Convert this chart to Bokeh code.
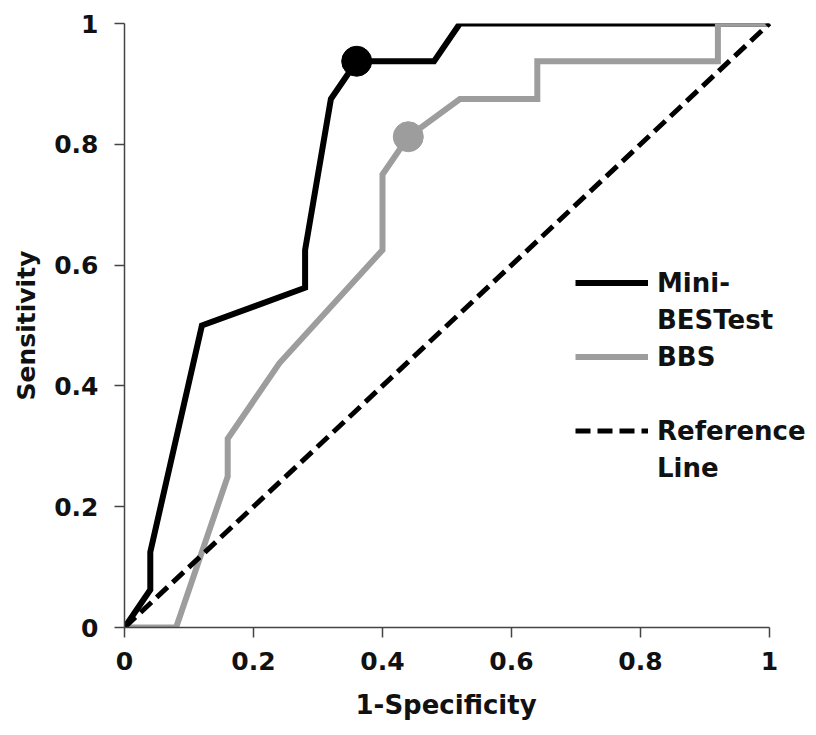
from bokeh.plotting import figure
from bokeh.models import Legend, LegendItem, FixedTicker, Title
from bokeh.embed import file_html
from bokeh.resources import INLINE

# ---- data ----
mini_x = [0, 0.04, 0.04, 0.12, 0.28, 0.28, 0.32, 0.36, 0.48, 0.52, 1.0]
mini_y = [0, 0.0625, 0.125, 0.5, 0.5625, 0.625, 0.875, 0.9375, 0.9375, 1.0, 1.0]

bbs_x = [0, 0.08, 0.16, 0.16, 0.24, 0.40, 0.40, 0.44, 0.52, 0.64, 0.64, 0.92, 0.92, 1.0]
bbs_y = [0, 0, 0.25, 0.3125, 0.4375, 0.625, 0.75, 0.8125, 0.875, 0.875, 0.9375, 0.9375, 1.0, 1.0]

ref_x = [0, 1]
ref_y = [0, 1]

mini_cut_x = [0.36]
mini_cut_y = [0.9375]
bbs_cut_x = [0.44]
bbs_cut_y = [0.8125]

tick_values = [0, 0.2, 0.4, 0.6, 0.8, 1.0]
tick_labels = ["0", "0.2", "0.4", "0.6", "0.8", "1"]

GREY = "#9d9d9d"
FONT = "DejaVu Sans"

# frame runs to the page's right edge so the legend text is not clipped;
# the x axis itself is bounded to 0..1
X_END = 692 / 645.0

p = figure(width=816, height=735, x_range=(0, X_END), y_range=(0, 1),
           min_border_left=124, min_border_right=0, min_border_top=23, min_border_bottom=107,
           output_backend="svg", toolbar_location=None)
p.outline_line_color = None
p.xgrid.visible = False
p.ygrid.visible = False
p.background_fill_color = "white"
p.border_fill_color = "white"

r_mini = p.line(mini_x, mini_y, line_color="black", line_width=6, line_join="miter")
r_bbs = p.line(bbs_x, bbs_y, line_color=GREY, line_width=6, line_join="miter")
r_ref = p.line(ref_x, ref_y, line_color="black", line_width=5, line_dash="15 7")
p.scatter(mini_cut_x, mini_cut_y, size=30, fill_color="black", line_color="black")
p.scatter(bbs_cut_x, bbs_cut_y, size=30, fill_color=GREY, line_color=GREY)
r_blank = p.line(x=[], y=[], line_alpha=0)

for ax in (p.xaxis[0], p.yaxis[0]):
    ax.ticker = FixedTicker(ticks=tick_values)
    ax.major_label_overrides = {v: l for v, l in zip(tick_values, tick_labels)}
    ax.minor_tick_line_color = None
    ax.major_tick_in = 0
    ax.major_tick_out = 10
    ax.axis_line_color = "#444444"
    ax.axis_line_width = 1.5
    ax.major_tick_line_color = "#444444"
    ax.major_tick_line_width = 1.5
    ax.major_label_text_font = FONT
    ax.major_label_text_font_style = "bold"
    ax.major_label_text_font_size = "25px"
    ax.major_label_text_color = "#111111"
    ax.major_label_standoff = 14
    ax.axis_label_text_font = FONT
    ax.axis_label_text_font_style = "bold"
    ax.axis_label_text_color = "#111111"
    ax.axis_label_standoff = 12

p.xaxis.bounds = (0, 1)
p.yaxis.axis_label = "Sensitivity"
p.yaxis.axis_label_text_font_size = "25px"
p.yaxis.major_label_standoff = 16
p.yaxis.axis_label_standoff = 10

# x-axis title, centred under the 0..1 axis (not under the wider frame)
p.add_layout(Title(text="1-Specificity", align="left", offset=231,
                   text_font=FONT, text_font_style="bold", text_font_size="26px",
                   text_color="#111111", standoff=31), "below")

legend = Legend(items=[
    LegendItem(label="Mini-", renderers=[r_mini]),
    LegendItem(label="BESTest", renderers=[r_blank]),
    LegendItem(label="BBS", renderers=[r_bbs]),
    LegendItem(label=" ", renderers=[r_blank]),
    LegendItem(label="Reference", renderers=[r_ref]),
    LegendItem(label="Line", renderers=[r_blank]),
], location=(451, 141), padding=0, margin=0, spacing=0,
   glyph_width=73, glyph_height=37, label_height=37, label_standoff=9,
   label_text_font=FONT, label_text_font_style="bold", label_text_font_size="26px",
   label_text_color="#111111",
   border_line_alpha=0, background_fill_alpha=0)
p.add_layout(legend)

open("out.html", "w").write(file_html(p, INLINE))
